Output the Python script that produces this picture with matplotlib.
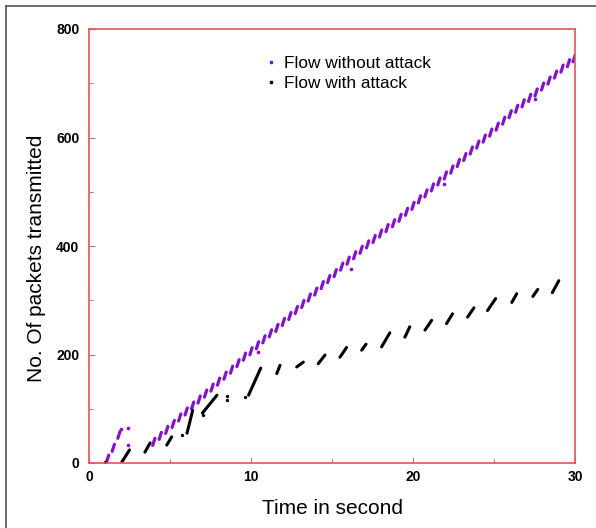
import matplotlib
matplotlib.use('Agg')
import matplotlib.pyplot as plt
from matplotlib.collections import LineCollection
from matplotlib.lines import Line2D
from matplotlib.ticker import MultipleLocator

plt.rcParams['font.family'] = ['Liberation Sans', 'DejaVu Sans']

# ---- data ----
# Flow without attack: centre of each burst (time s, packets)
purple_t = [1.15, 1.5, 1.85, 4.0, 4.4, 4.8, 5.2, 5.6, 6.0, 6.4, 6.8, 7.2, 7.6, 8.0, 8.4, 8.8,
            9.2, 9.6, 10.0, 10.4, 10.8, 11.2, 11.6, 12.0, 12.4, 12.8, 13.2, 13.6, 14.0,
            14.4, 14.8, 15.2, 15.6, 16.0, 16.4, 16.8, 17.2, 17.6, 18.0, 18.4, 18.8, 19.2,
            19.6, 20.0, 20.4, 20.8, 21.2, 21.6, 22.0, 22.4, 22.8, 23.2, 23.6, 24.0, 24.4,
            24.8, 25.2, 25.6, 26.0, 26.4, 26.8, 27.2, 27.6, 28.0, 28.4, 28.8, 29.2, 29.6,
            29.95]
purple_v = [8, 28, 52, 39, 50, 61, 72, 84, 95, 106, 117, 128, 139, 150, 161, 172,
            184, 196, 206, 217, 228, 239, 249, 260, 271, 282, 293, 305, 316,
            328, 339, 350, 362, 373, 383, 393, 403, 413, 423, 433, 442, 452,
            463, 474, 486, 497, 508, 519, 530, 541, 553, 564, 576, 587, 598,
            609, 620, 631, 643, 653, 663, 673, 683, 694, 705, 716, 727, 737,
            746]
# isolated packets of the flow without attack
purple_dot_t = [2.0, 2.4, 2.4, 10.45, 16.2, 21.9, 27.5]
purple_dot_v = [62, 64, 33, 205, 358, 514, 671]

# Flow with attack: bursts as (start time, start packets, end time, end packets)
black_t0 = [2.03, 3.45, 4.8, 6.05, 7.0, 9.85, 11.59, 12.82, 14.15, 15.49, 16.83, 18.06,
            19.5, 20.74, 22.07, 23.37, 24.6, 26.1, 27.4, 28.6]
black_v0 = [2, 20, 33, 55, 92, 125, 165, 177, 183, 195, 208, 214,
            232, 245, 257, 269, 281, 296, 307, 314]
black_t1 = [2.5, 3.77, 5.1, 6.4, 7.9, 10.6, 11.79, 13.23, 14.57, 15.9, 17.1, 18.57,
            19.8, 21.15, 22.44, 23.76, 25.1, 26.4, 27.7, 29.0]
black_v1 = [24, 37, 48, 97, 125, 175, 180, 186, 199, 213, 219, 240,
            251, 263, 275, 286, 303, 312, 320, 336]
black_dot_t = [1.0, 5.75, 7.04, 8.5, 8.5, 9.63]
black_dot_v = [1, 51, 88, 124, 117, 122]

x_ticks = [0, 10, 20, 30]
y_ticks = [0, 200, 400, 600, 800]
labels = ['Flow without attack', 'Flow with attack']

PURPLE = '#8410d2'

fig = plt.figure(figsize=(5.96, 5.28), dpi=100)
ax = fig.add_axes([89 / 596, 65 / 528, 486 / 596, 434 / 528])

# purple bursts: short steep strokes centred on each burst point
dt, dv = 0.07, 6.5
segs = [[(t - dt, v - dv), (t + dt, v + dv)] for t, v in zip(purple_t, purple_v)]
ax.add_collection(LineCollection(segs, colors=PURPLE, linewidths=2.3, capstyle='round'))
ax.plot(purple_dot_t, purple_dot_v, 'o', color=PURPLE, ms=2.6, mew=0)

segs_b = [[(a, b), (c, d)] for a, b, c, d in zip(black_t0, black_v0, black_t1, black_v1)]
ax.add_collection(LineCollection(segs_b, colors='black', linewidths=2.2, capstyle='round'))
ax.plot(black_dot_t, black_dot_v, 'o', color='black', ms=2.4, mew=0)

ax.set_xlim(0, 30)
ax.set_ylim(0, 800)
ax.set_xticks(x_ticks)
ax.set_yticks(y_ticks)
ax.xaxis.set_minor_locator(MultipleLocator(5))
ax.yaxis.set_minor_locator(MultipleLocator(100))
ax.tick_params(which='both', direction='in', colors='#888888', labelcolor='black',
               labelsize=10)
ax.tick_params(which='major', length=4, width=0.8)
ax.tick_params(which='minor', length=3, width=0.8)
ax.tick_params(axis='y', pad=7)
ax.tick_params(axis='x', pad=5)
for lab in ax.get_xticklabels() + ax.get_yticklabels():
    lab.set_fontweight('bold')
for s in ax.spines.values():
    s.set_color('#e05555')
    s.set_linewidth(1.2)

ax.set_xlabel('Time in second', fontsize=15, labelpad=11)
ax.set_ylabel('No. Of packets transmitted', fontsize=15)
ax.yaxis.set_label_coords((46 - 89) / 486, (463 - 258) / 434)

handles = [Line2D([], [], marker='s', ls='none', color=PURPLE, ms=2),
           Line2D([], [], marker='s', ls='none', color='black', ms=2)]
ax.legend(handles, labels, loc='upper left', bbox_to_anchor=(257 / 596, 1 - 47 / 528),
          bbox_transform=fig.transFigure, frameon=False, fontsize=12.4,
          handlelength=0.6, handletextpad=0.45, labelspacing=0.3, borderpad=0)

# outer frame (left and top edges visible)
fig.add_artist(Line2D([5.5 / 596, 5.5 / 596], [0, 1 - 6 / 528], color='#555555', lw=1.2))
fig.add_artist(Line2D([5.5 / 596, 1], [1 - 6 / 528, 1 - 6 / 528], color='#555555', lw=1.2))

fig.savefig('out.png', dpi=100)
